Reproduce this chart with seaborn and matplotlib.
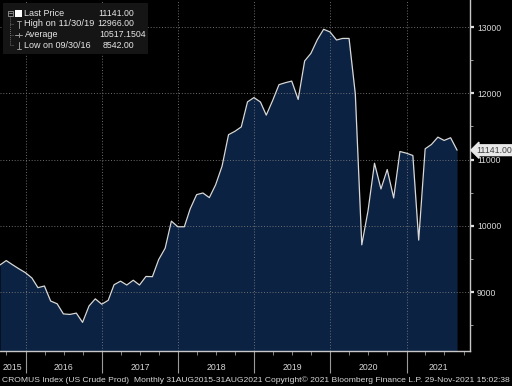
import numpy as np
import pandas as pd
import matplotlib
matplotlib.use("Agg")
import matplotlib.pyplot as plt
import matplotlib.dates as mdates
import matplotlib.transforms as mtransforms
from matplotlib.patches import Rectangle
import seaborn as sns

# monthly index values, 31AUG2015 - 31AUG2021
dates = pd.date_range("2015-08-31", periods=73, freq="ME")
values = [
    9409, 9475, 9410, 9350, 9292, 9212, 9066, 9091, 8864, 8823, 8670, 8662,
    8682, 8542, 8790, 8897, 8816, 8875, 9110, 9164, 9106, 9178, 9106, 9235,
    9232, 9490, 9661, 10070, 9985, 9985, 10255, 10470, 10495, 10425, 10618, 10900,
    11375, 11425, 11492, 11870, 11935, 11868, 11670, 11894, 12130, 12160, 12184, 11907,
    12488, 12602, 12810, 12966, 12925, 12804, 12828, 12828, 11990, 9712, 10227, 10944,
    10556, 10849, 10420, 11121, 11096, 11061, 9784, 11162, 11227, 11338, 11288, 11329,
    11141,
]
year_labels = ["2015", "2016", "2017", "2018", "2019", "2020", "2021"]
y_ticks = [9000, 10000, 11000, 12000, 13000]
last_price = "11141.00"
legend_labels = ["Last Price", "High on 11/30/19", "Average", "Low on 09/30/16"]
legend_values = ["11141.00", "12966.00", "10517.1504", "8542.00"]
footer = ("CROMUS Index (US Crude Prod)  Monthly 31AUG2015-31AUG2021 "
          "Copyright\u00a9 2021 Bloomberg Finance L.P. 29-Nov-2021 15:02:38")

df = pd.DataFrame({"date": dates, "value": values})

sns.set_theme(style="dark")
plt.rcParams["font.family"] = ["Liberation Sans", "DejaVu Sans"]

W, H = 512, 386
fig = plt.figure(figsize=(W / 100, H / 100), dpi=100, facecolor="black")
ax = fig.add_axes([0, 1 - 351 / H, 470 / W, 351 / H])
ax.set_facecolor("black")

x0 = pd.Timestamp("2015-08-31")
x1 = pd.Timestamp("2021-11-01")
ymin, ymax = 8110, 13408

ax.fill_between(df["date"], df["value"], ymin - 100, color="#0b2242", lw=0, zorder=1)
sns.lineplot(data=df, x="date", y="value", ax=ax, color="#d8d8d8", lw=0.9, zorder=3)

ax.set_xlim(x0, x1)
ax.set_ylim(ymin, ymax)
ax.set_xlabel("")
ax.set_ylabel("")

# grid
grid_kw = dict(color="#7a7a7a", lw=0.6, ls=(0, (1.2, 2.2)), zorder=2)
for v in y_ticks:
    ax.axhline(v, **grid_kw)
year_starts = [pd.Timestamp(f"{y}-01-01") for y in range(2016, 2022)]
for d in year_starts:
    ax.axvline(d, **grid_kw)

# spines
for s in ["left", "top"]:
    ax.spines[s].set_visible(False)
for s in ["right", "bottom"]:
    ax.spines[s].set_visible(True)
    ax.spines[s].set_color("#c8c8c8")
    ax.spines[s].set_linewidth(1.0)

# right axis
ax.yaxis.tick_right()
ax.set_yticks(y_ticks)
ax.set_yticklabels([str(v) for v in y_ticks])
ax.set_yticks(np.arange(8500, 13500, 1000), minor=True)
ax.tick_params(axis="y", which="major", direction="out", length=3, width=1.6,
               color="#e0e0e0", labelsize=6.2, labelcolor="#d8d8d8", pad=2, right=True)
ax.tick_params(axis="y", which="minor", direction="out", length=2, width=0.6,
               color="#b0b0b0", right=True)

# bottom axis: long ticks at year boundaries, short quarterly ticks
ax.xaxis.set_major_locator(mdates.YearLocator())
ax.xaxis.set_minor_locator(mdates.MonthLocator(bymonth=[1, 4, 7, 10]))
ax.xaxis.set_major_formatter(plt.NullFormatter())
ax.tick_params(axis="x", which="major", direction="out", length=16, width=0.8,
               color="#9a9a9a", bottom=True)
ax.tick_params(axis="x", which="minor", direction="out", length=3, width=0.6,
               color="#9a9a9a", bottom=True)

# year labels centred in the visible part of each year
trans = mtransforms.blended_transform_factory(ax.transData, ax.transAxes)
edges = [x0] + year_starts + [x1]
for lab, a, b in zip(year_labels, edges[:-1], edges[1:]):
    mid = a + (b - a) / 2
    ax.text(mid, -0.048, lab, transform=trans, ha="center", va="center",
            fontsize=6.3, color="#d8d8d8", clip_on=False)

# last price callout
trans_y = mtransforms.blended_transform_factory(ax.transAxes, ax.transData)
ax.text(476.5 / 470, values[-1], last_price, transform=trans_y, ha="left", va="center",
        fontsize=6.3, color="#404040", clip_on=False,
        bbox=dict(boxstyle="larrow,pad=0.1", fc="#e8e8e8", ec="#e8e8e8"))

# overlay in pixel coordinates for legend box and footer
ov = fig.add_axes([0, 0, 1, 1])
ov.set_xlim(0, W)
ov.set_ylim(H, 0)
ov.axis("off")
ov.patch.set_alpha(0)

ov.add_patch(Rectangle((3, 3), 145, 51, fc="#151515", ec="none", zorder=1))
rows = [13.5, 24, 34.7, 45.3]
ov.plot([10, 10], [16, 45.3], color="#8a8a8a", lw=0.6, ls=(0, (1, 1.5)), zorder=2)
for r in rows[1:]:
    ov.plot([10, 14], [r, r], color="#8a8a8a", lw=0.6, ls=(0, (1, 1.5)), zorder=2)
ov.add_patch(Rectangle((7.5, 10.5), 5, 5, fc="none", ec="#9a9a9a", lw=0.6, zorder=3))
ov.plot([8.5, 11.5], [13, 13], color="#9a9a9a", lw=0.6, zorder=3)
ov.add_patch(Rectangle((15, 10), 7, 7, fc="white", ec="none", zorder=3))
# high, average, low icons
ov.plot([18.5, 18.5], [21, 28], color="#9a9a9a", lw=0.7, zorder=3)
ov.plot([16.5, 20.5], [21, 21], color="#9a9a9a", lw=0.7, zorder=3)
ov.plot([15, 22], [34.7, 34.7], color="#9a9a9a", lw=0.7, zorder=3)
ov.plot([18.5, 18.5], [32.7, 36.7], color="#9a9a9a", lw=0.7, zorder=3)
ov.plot([18.5, 18.5], [41.5, 48.5], color="#9a9a9a", lw=0.7, zorder=3)
ov.plot([16.5, 20.5], [48.5, 48.5], color="#9a9a9a", lw=0.7, zorder=3)

renderer = fig.canvas.get_renderer()


def fit_width(t, target):
    w = t.get_window_extent(renderer).width
    t.set_fontsize(t.get_fontsize() * target / w)


for r, lab, val in zip(rows, legend_labels, legend_values):
    t = ov.text(24.5, r, lab, ha="left", va="center", fontsize=6.5, color="#e6e6e6", zorder=4)
    if lab == "High on 11/30/19":
        fit_width(t, 70)
    if lab == "Average":
        ov.text(99, r, val, ha="left", va="center", fontsize=6.3, color="#e6e6e6", zorder=4)
    else:
        ov.text(134.5, r, val, ha="right", va="center", fontsize=6.3, color="#e6e6e6", zorder=4)

ft = ov.text(1.5, 380, footer, ha="left", va="center", fontsize=6, color="#d8d8d8")
fit_width(ft, 508)

fig.savefig("out.png", dpi=100, facecolor="black")
